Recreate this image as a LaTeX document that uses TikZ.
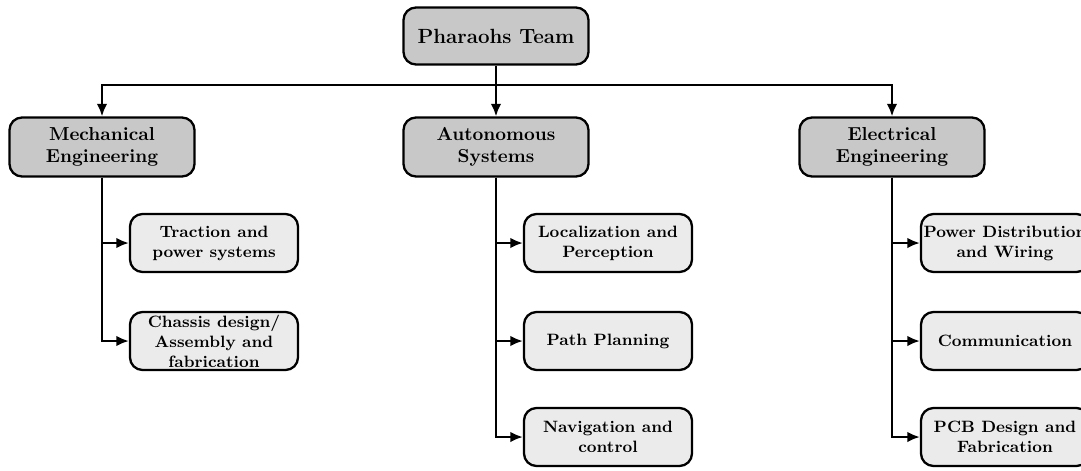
\documentclass[tikz,border=0pt]{standalone}
\usetikzlibrary{arrows.meta}
\definecolor{darkfill}{RGB}{200,200,200}
\definecolor{lightfill}{RGB}{235,235,235}
\begin{document}
\begin{tikzpicture}[x=0.56pt,y=-0.56pt,
  box/.style={draw=black,line width=1.3pt,rounded corners=7pt,align=center,inner sep=0pt},
  topbox/.style={box,fill=darkfill,minimum width=185*0.56pt,minimum height=57*0.56pt,font=\fontsize{11.5}{14}\selectfont\bfseries},
  lvlbox/.style={box,fill=darkfill,minimum width=185*0.56pt,minimum height=59*0.56pt,font=\fontsize{10.5}{12.6}\selectfont\bfseries},
  leaf/.style={box,fill=lightfill,minimum width=168*0.56pt,minimum height=58*0.56pt,font=\fontsize{9.2}{11.2}\selectfont\bfseries},
  arr/.style={line width=1.3pt,-{Latex[length=7pt,width=6pt]}}]
\useasboundingbox (0,0) rectangle (1081,470);
\node[topbox] (top) at (496,36) {Pharaohs Team};
\node[lvlbox] (mech) at (102,147) {Mechanical\\Engineering};
\node[lvlbox] (auto) at (496,147) {Autonomous\\Systems};
\node[lvlbox] (elec) at (892,147) {Electrical\\Engineering};
\coordinate (bus) at (496,85);
\node[leaf] (trac) at (214,243) {Traction and\\power systems};
\node[leaf] (chas) at (214,341) {Chassis design/\\Assembly and\\fabrication};
\node[leaf] (loc) at (608,243) {Localization and\\Perception};
\node[leaf] (path) at (608,341) {Path Planning};
\node[leaf] (nav) at (608,437) {Navigation and\\control};
\node[leaf] (pow) at (1005,243) {Power Distribution\\and Wiring};
\node[leaf] (comm) at (1005,341) {Communication};
\node[leaf] (pcb) at (1005,437) {PCB Design and\\Fabrication};
\draw[arr] (top.south) -- (auto.north);
\draw[arr] (bus) -| (mech.north);
\draw[arr] (bus) -| (elec.north);
\draw[arr] (mech.south) |- (trac.west);
\draw[arr] (mech.south) |- (chas.west);
\draw[arr] (auto.south) |- (loc.west);
\draw[arr] (auto.south) |- (path.west);
\draw[arr] (auto.south) |- (nav.west);
\draw[arr] (elec.south) |- (pow.west);
\draw[arr] (elec.south) |- (comm.west);
\draw[arr] (elec.south) |- (pcb.west);
\end{tikzpicture}
\end{document}
